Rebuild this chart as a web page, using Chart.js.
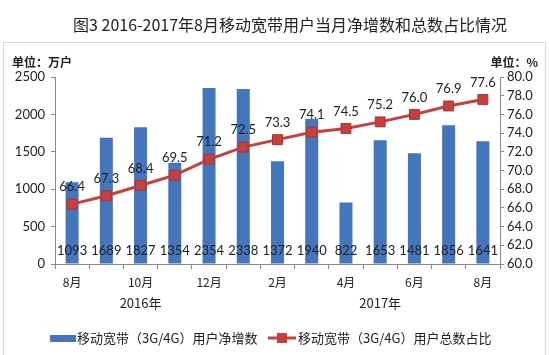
<!DOCTYPE html>
<html><head><meta charset="utf-8">
<script src="https://cdn.jsdelivr.net/npm/chart.js@4"></script>
<style>html,body{margin:0;padding:0;background:#fff;}#wrap{width:549px;height:355px;position:relative;}</style>
</head><body><div id="wrap"><canvas id="c" width="549" height="355"></canvas></div>
<script>
const categories = ['8月','9月','10月','11月','12月','1月','2月','3月','4月','5月','6月','7月','8月'];
const tickLabels = ['8月','','10月','','12月','','2月','','4月','','6月','','8月'];
const netAdds = [1093,1689,1827,1354,2354,2338,1372,1940,822,1653,1481,1856,1641];
const share = [66.4,67.3,68.4,69.5,71.2,72.5,73.3,74.1,74.5,75.2,76.0,76.9,77.6];
const years = [{label:'2016年', from:0, to:4}, {label:'2017年', from:6, to:12}];
const titleText = '图3 2016-2017年8月移动宽带用户当月净增数和总数占比情况';
const seriesNames = ['移动宽带（3G/4G）用户净增数','移动宽带（3G/4G）用户总数占比'];

const BLUE = '#4476BE', RED = '#C8403C';
const FONT = 'Lato, "Liberation Sans", sans-serif';
const CJK = '"Noto Sans CJK SC", sans-serif';

const extras = {
  id:'extras',
  beforeDraw(chart){
    const ctx = chart.ctx;
    ctx.save();
    ctx.fillStyle='#fff'; ctx.fillRect(0,0,chart.width,chart.height);
    ctx.strokeStyle='#d9d9d9'; ctx.lineWidth=1;
    ctx.strokeRect(3.5,42.5,542,330);
    ctx.fillStyle='#222'; ctx.font='16px '+CJK; ctx.textAlign='center'; ctx.textBaseline='middle';
    ctx.fillText(titleText, 290, 25);
    ctx.font='bold 12px '+CJK; ctx.textAlign='left';
    ctx.fillText('单位：万户', 12, 62);
    ctx.textAlign='right';
    ctx.fillText('单位：%', 538, 62);
    ctx.restore();
  },
  afterDraw(chart){
    const ctx = chart.ctx;
    const x = chart.scales.x;
    ctx.save();
    ctx.fillStyle='#222'; ctx.font='13px '+FONT; ctx.textAlign='center'; ctx.textBaseline='middle';
    const lineMeta = chart.data.datasets[0].type==='line' ? chart.getDatasetMeta(0) : chart.getDatasetMeta(1);
    const barMeta = chart.data.datasets[0].type==='bar' ? chart.getDatasetMeta(0) : chart.getDatasetMeta(1);
    barMeta.data.forEach((b,i)=>{ ctx.fillText(String(netAdds[i]), b.x, 251); });
    lineMeta.data.forEach((p,i)=>{ ctx.fillText(share[i].toFixed(1), p.x, p.y-17); });
    ctx.font='13px '+CJK;
    years.forEach(y=>{
      const cx = (x.getPixelForValue(y.from)+x.getPixelForValue(y.to))/2;
      ctx.fillText(y.label, cx, 303);
    });
    const ly = 338;
    ctx.fillStyle=BLUE; ctx.fillRect(50, ly-3, 26, 7);
    ctx.fillStyle='#222'; ctx.textAlign='left'; ctx.font='13px '+CJK;
    ctx.fillText(seriesNames[0], 77, ly);
    ctx.strokeStyle=RED; ctx.lineWidth=3; ctx.beginPath(); ctx.moveTo(268,ly); ctx.lineTo(296,ly); ctx.stroke();
    ctx.fillStyle=RED; ctx.fillRect(277, ly-5, 10, 10);
    ctx.fillStyle='#222';
    ctx.fillText(seriesNames[1], 298, ly);
    ctx.restore();
  }
};

new Chart(document.getElementById('c'), {
  data:{
    labels: categories,
    datasets:[
      {type:'line', label:seriesNames[1], data:share, yAxisID:'y1', borderColor:RED, borderWidth:3,
       pointStyle:'rect', pointRadius:7, pointBackgroundColor:RED, pointBorderColor:'#B03030', pointBorderWidth:1, tension:0, order:0},
      {type:'bar', label:seriesNames[0], data:netAdds, yAxisID:'y', backgroundColor:BLUE,
       barPercentage:0.38, categoryPercentage:1, order:1}
    ]
  },
  options:{
    responsive:false, animation:false, devicePixelRatio:1,
    layout:{padding:{left:0,right:0,top:77,bottom:61}},
    plugins:{legend:{display:false}, tooltip:{enabled:false}, title:{display:false}},
    scales:{
      x:{
        grid:{display:true, drawOnChartArea:false, tickLength:5, color:'#888', offset:true},
        border:{display:true, color:'#888'},
        ticks:{autoSkip:false, maxRotation:0, padding:6, color:'#222', font:{size:12, family:CJK},
          callback:(v,i)=>tickLabels[i]},
        afterFit(s){ s.height = 30; }
      },
      y:{
        position:'left', min:0, max:2500,
        ticks:{stepSize:500, color:'#222', font:{size:13, family:FONT}, padding:6, callback:v=>String(v)},
        grid:{display:true, drawOnChartArea:false, tickLength:4, color:'#888'},
        border:{display:true, color:'#888'},
        afterFit(s){ s.width = 55; }
      },
      y1:{
        position:'right', min:60, max:80,
        ticks:{stepSize:2, color:'#222', font:{size:13, family:FONT}, padding:3, callback:v=>v.toFixed(1)},
        grid:{display:true, drawOnChartArea:false, tickLength:4, color:'#888'},
        border:{display:true, color:'#888'},
        afterFit(s){ s.width = 49; }
      }
    }
  },
  plugins:[extras]
});
</script></body></html>
